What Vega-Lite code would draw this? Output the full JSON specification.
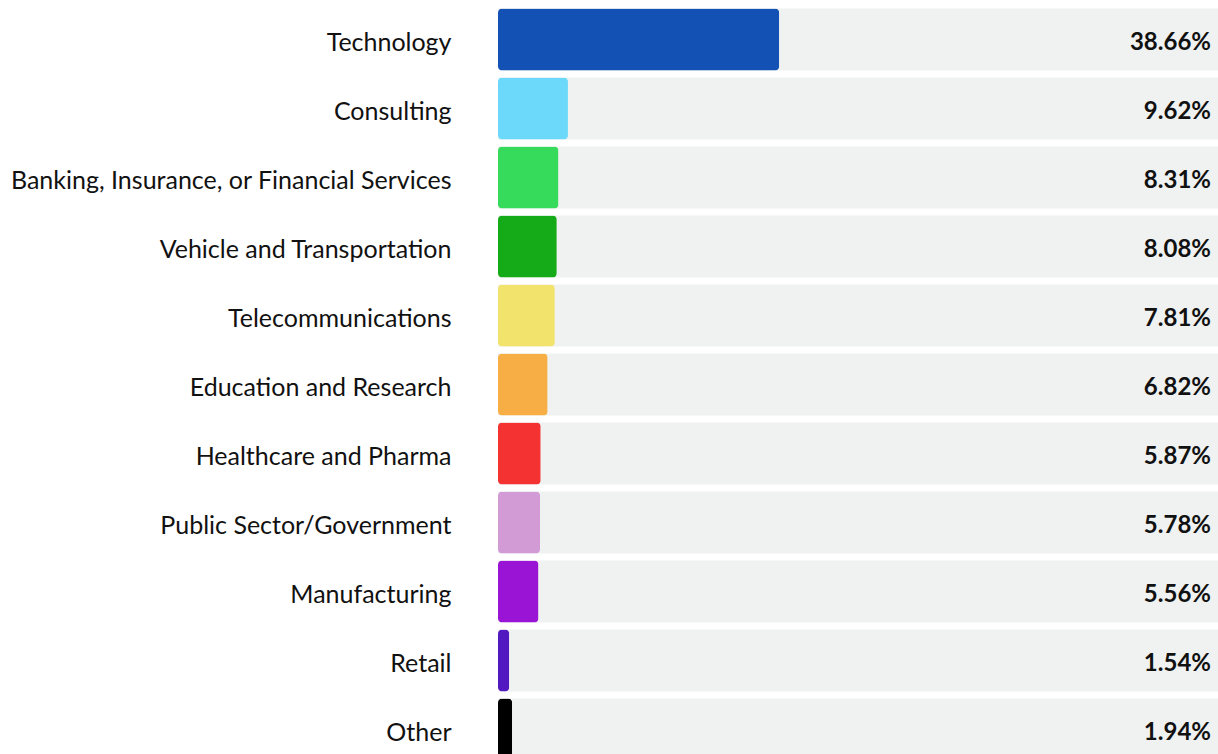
{
  "$schema": "https://vega.github.io/schema/vega-lite/v6.json",
  "autosize": "none",
  "padding": {"left": 498, "top": 5, "right": 0, "bottom": 0},
  "width": 720,
  "height": 759,
  "background": "white",
  "config": {"view": {"stroke": null}},
  "data": {"values": [
    {"industry": "Technology", "pct": 38.66, "label": "38.66%", "color": "#1351B4"},
    {"industry": "Consulting", "pct": 9.62, "label": "9.62%", "color": "#6DD9FA"},
    {"industry": "Banking, Insurance, or Financial Services", "pct": 8.31, "label": "8.31%", "color": "#37DB5B"},
    {"industry": "Vehicle and Transportation", "pct": 8.08, "label": "8.08%", "color": "#14AA18"},
    {"industry": "Telecommunications", "pct": 7.81, "label": "7.81%", "color": "#F2E36C"},
    {"industry": "Education and Research", "pct": 6.82, "label": "6.82%", "color": "#F6AE45"},
    {"industry": "Healthcare and Pharma", "pct": 5.87, "label": "5.87%", "color": "#F43232"},
    {"industry": "Public Sector/Government", "pct": 5.78, "label": "5.78%", "color": "#D39BD6"},
    {"industry": "Manufacturing", "pct": 5.56, "label": "5.56%", "color": "#9914D5"},
    {"industry": "Retail", "pct": 1.54, "label": "1.54%", "color": "#5219C1"},
    {"industry": "Other", "pct": 1.94, "label": "1.94%", "color": "#000000"}
  ]},
  "encoding": {
    "y": {
      "field": "industry", "type": "nominal", "sort": null,
      "scale": {"paddingInner": 0.1, "paddingOuter": 0.05},
      "axis": {
        "title": null, "domain": false, "ticks": false, "labelPadding": 47,
        "labelFont": "Lato", "labelFontSize": 25, "labelColor": "#111111",
        "labelLimit": 500, "labelOffset": 3
      }
    }
  },
  "layer": [
    {
      "mark": {"type": "bar", "color": "#F0F1F1"},
      "encoding": {
        "x": {"datum": 99, "type": "quantitative", "scale": {"domain": [0, 99]}, "axis": null}
      }
    },
    {
      "mark": {"type": "bar", "cornerRadius": 4},
      "encoding": {
        "x": {"field": "pct", "type": "quantitative", "scale": {"domain": [0, 99]}, "axis": null},
        "color": {"field": "color", "type": "nominal", "scale": null, "legend": null}
      }
    },
    {
      "mark": {"type": "text", "align": "right", "baseline": "middle", "dx": -7, "dy": 3, "font": "Lato", "fontSize": 24, "fontWeight": "bold", "letterSpacing": 0.5, "color": "#111111"},
      "encoding": {
        "x": {"datum": 99, "type": "quantitative", "scale": {"domain": [0, 99]}},
        "text": {"field": "label"}
      }
    }
  ]
}
